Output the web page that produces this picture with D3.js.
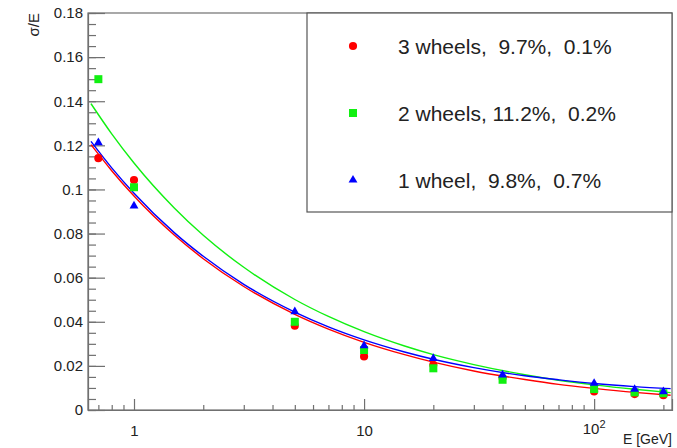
<!DOCTYPE html>
<html>
<head>
<meta charset="utf-8">
<script src="https://d3js.org/d3.v7.min.js"></script>
<style>
  body { margin: 0; background: #fff; }
  text { font-family: "Liberation Sans", Arial, sans-serif; fill: #222; }
</style>
</head>
<body>
<div id="chart"></div>
<script>
// measured points (E in GeV, sigma/E)
var energy = [0.7, 1, 5, 10, 20, 40, 100, 150, 200];
var wheels3 = [0.1142, 0.1043, 0.0382, 0.0243, 0.0205, 0.0146, 0.0084, 0.0072, 0.0067];
var wheels2 = [0.150, 0.1010, 0.0400, 0.0272, 0.0189, 0.0137, 0.0095, 0.0080, 0.0076];
var wheels1 = [0.1212, 0.0925, 0.0446, 0.0292, 0.0234, 0.0159, 0.0121, 0.0094, 0.0083];

// fit curves
var fitE = [0.65, 0.8, 1, 1.5, 2, 3, 5, 7, 10, 15, 20, 30, 50, 70, 100, 150, 215];
var fit3 = [0.1203, 0.1085, 0.0970, 0.0792, 0.0686, 0.0560, 0.0434, 0.0367, 0.0307, 0.0251, 0.0217, 0.0177, 0.0138, 0.0116, 0.0098, 0.0080, 0.0067];
var fit2 = [0.1389, 0.1252, 0.1120, 0.0915, 0.0792, 0.0647, 0.0501, 0.0424, 0.0355, 0.0290, 0.0251, 0.0206, 0.0160, 0.0135, 0.0114, 0.0094, 0.0079];
var fit1 = [0.1218, 0.1098, 0.0983, 0.0803, 0.0697, 0.0570, 0.0444, 0.0377, 0.0318, 0.0263, 0.0230, 0.0192, 0.0155, 0.0137, 0.0120, 0.0106, 0.0097];

var legendLabels = ["3 wheels,  9.7%,  0.1%", "2 wheels, 11.2%,  0.2%", "1 wheel,  9.8%,  0.7%"];
var xMajor = [1, 10, 100];
var xMinor = [0.7, 0.8, 0.9, 2, 3, 4, 5, 6, 7, 8, 9, 20, 30, 40, 50, 60, 70, 80, 90, 200];
var yMajor = [0, 0.02, 0.04, 0.06, 0.08, 0.1, 0.12, 0.14, 0.16, 0.18];
var yMinor = d3.range(0, 0.1801, 0.005);

var W = 677, H = 448;
var margin = {top: 13, right: 5, bottom: 38, left: 88};
var width = W - margin.left - margin.right,
    height = H - margin.top - margin.bottom;

var svg = d3.select("#chart").append("svg")
    .attr("width", W).attr("height", H)
  .append("g")
    .attr("transform", "translate(" + margin.left + "," + margin.top + ")");

var x = d3.scaleLog().domain([0.631, 218]).range([0, width]);
var y = d3.scaleLinear().domain([0, 0.18]).range([height, 0]);

var series = [
  {name: legendLabels[0], vals: wheels3, fit: fit3, color: "#ff0000", sym: d3.symbolCircle, size: 52},
  {name: legendLabels[1], vals: wheels2, fit: fit2, color: "#11f011", sym: d3.symbolSquare, size: 64},
  {name: legendLabels[2], vals: wheels1, fit: fit1, color: "#0000ff", sym: d3.symbolTriangle, size: 34}
];

// frame
var axisColor = "#707070";
svg.append("rect")
    .attr("width", width).attr("height", height)
    .attr("fill", "none").attr("stroke", axisColor).attr("stroke-width", 1.2);

// y axis
svg.append("g")
    .call(d3.axisLeft(y).tickValues(yMajor).tickSize(-17).tickPadding(5)
      .tickFormat(function(d) { return d === 0 ? "0" : d3.format("")(+d.toFixed(2)); }));
svg.append("g")
    .call(d3.axisLeft(y).tickValues(yMinor).tickSize(-8).tickFormat(""))
    .select(".domain").remove();

// x axis
svg.append("g")
    .attr("transform", "translate(0," + height + ")")
    .call(d3.axisBottom(x).tickValues(xMajor).tickSize(-11).tickPadding(15)
      .tickFormat(function(d) { return d === 100 ? "" : String(d); }));
svg.append("g")
    .attr("transform", "translate(0," + height + ")")
    .call(d3.axisBottom(x).tickValues(xMinor).tickSize(-5).tickFormat(""))
    .select(".domain").remove();

svg.selectAll(".domain, .tick line").attr("stroke", axisColor).attr("stroke-width", 1.2);
svg.selectAll(".tick text").style("font-size", "15px").style("fill", "#222")
    .style("font-family", "'Liberation Sans', Arial, sans-serif");

// 10^2 label
var t100 = svg.append("text")
    .attr("x", x(100)).attr("y", height + 24)
    .attr("text-anchor", "middle")
    .style("font-size", "15px");
t100.append("tspan").text("10");
t100.append("tspan").attr("dy", -6).style("font-size", "11px").text("2");

// axis titles
svg.append("text")
    .attr("x", width).attr("y", height + 34)
    .attr("text-anchor", "end")
    .style("font-size", "14px")
    .text("E [GeV]");
svg.append("text")
    .attr("transform", "rotate(-90)")
    .attr("x", 0).attr("y", -49)
    .attr("text-anchor", "end")
    .style("font-size", "15px")
    .text("σ/E");

// fits and markers
var line = d3.line()
    .x(function(d) { return x(d[0]); })
    .y(function(d) { return y(d[1]); })
    .curve(d3.curveMonotoneX);

series.forEach(function(s) {
  svg.append("path")
      .datum(fitE.map(function(e, i) { return [e, s.fit[i]]; }))
      .attr("d", line)
      .attr("fill", "none")
      .attr("stroke", s.color)
      .attr("stroke-width", 1.4);
});

series.forEach(function(s) {
  svg.selectAll(null)
      .data(energy.map(function(e, i) { return [e, s.vals[i]]; }))
    .enter().append("path")
      .attr("d", d3.symbol().type(s.sym).size(s.size))
      .attr("transform", function(d) { return "translate(" + x(d[0]) + "," + y(d[1]) + ")"; })
      .attr("fill", s.color);
});

// legend
var lg = svg.append("g").attr("transform", "translate(" + (307 - margin.left) + ",0)");
lg.append("rect")
    .attr("width", 365).attr("height", 199)
    .attr("fill", "#fff").attr("stroke", "#555").attr("stroke-width", 1.2);

series.forEach(function(s, i) {
  var base = 40.5 + i * 67;
  lg.append("path")
      .attr("d", d3.symbol().type(s.sym).size(s.size))
      .attr("transform", "translate(46," + (base - 7.5) + ")")
      .attr("fill", s.color);
  lg.append("text")
      .attr("x", 91).attr("y", base)
      .style("font-size", "21px")
      .style("white-space", "pre")
      .text(s.name);
});
</script>
</body>
</html>
